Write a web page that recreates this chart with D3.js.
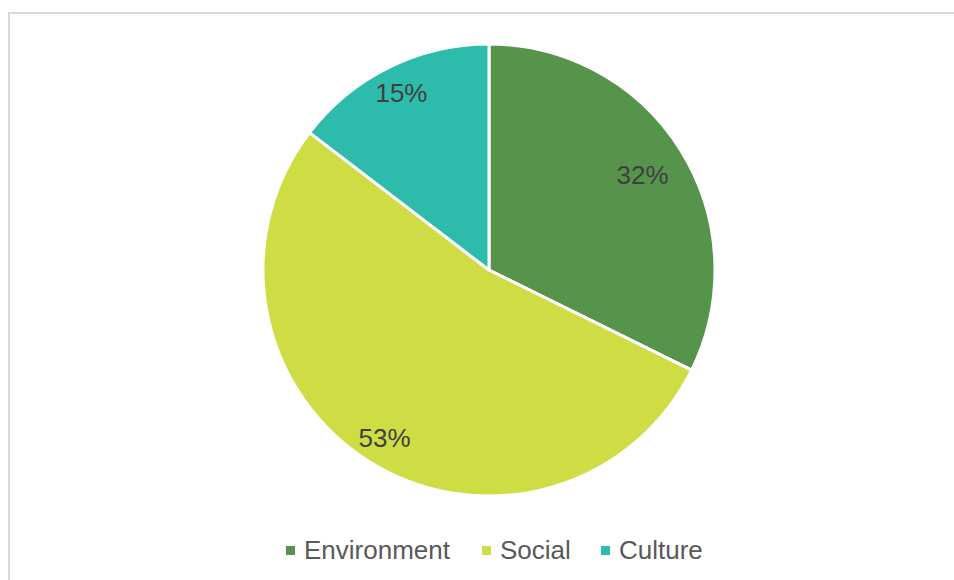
<!DOCTYPE html>
<html>
<head>
<meta charset="utf-8">
<script src="https://cdn.jsdelivr.net/npm/d3@7"></script>
<style>
  html, body { margin: 0; padding: 0; background: #fff; overflow: hidden; }
  svg { display: block; }
</style>
</head>
<body>
<svg id="chart" width="954" height="580"></svg>
<script>
// Data
const categories = ["Environment", "Social", "Culture"];
const values = [32.3, 53.1, 14.6];
const colors = ["#56944b", "#cfdd45", "#2dbbab"];

const W = 954, H = 580;
const svg = d3.select("#chart");

// chart area border (open on right/bottom as it runs off-canvas)
svg.append("rect")
  .attr("x", 9).attr("y", 13)
  .attr("width", 960).attr("height", 600)
  .attr("fill", "#fff")
  .attr("stroke", "#d9d9d9")
  .attr("stroke-width", 2);

const cx = 489, cy = 270, R = 226;
const data = categories.map((c, i) => ({ cat: c, value: values[i], color: colors[i] }));

const pie = d3.pie().value(d => d.value).sort(null);
const arcs = pie(data);
const arc = d3.arc().innerRadius(0).outerRadius(R);

const g = svg.append("g").attr("transform", `translate(${cx},${cy})`);
g.selectAll("path.slice")
  .data(arcs)
  .enter().append("path")
  .attr("class", "slice")
  .attr("d", arc)
  .attr("fill", d => d.data.color)
  .attr("stroke", "#fff")
  .attr("stroke-width", 3)
  .attr("stroke-linejoin", "round");

const labelRatio = [0.80, 0.875, 0.875];
g.selectAll("text.lbl")
  .data(arcs)
  .enter().append("text")
  .attr("class", "lbl")
  .each(function(d, i) {
    const la = d3.arc().innerRadius(R * labelRatio[i]).outerRadius(R * labelRatio[i]);
    const [x, y] = la.centroid(d);
    d3.select(this).attr("x", x).attr("y", y);
  })
  .attr("text-anchor", "middle")
  .attr("dominant-baseline", "central")
  .attr("font-family", "Liberation Sans, Arial, sans-serif")
  .attr("font-size", 26)
  .attr("fill", "#404040")
  .text(d => Math.round(d.data.value) + "%");

// Legend
const legendX = [286, 482, 601];
const legend = svg.append("g");
data.forEach((d, i) => {
  legend.append("rect")
    .attr("x", legendX[i]).attr("y", 546)
    .attr("width", 9).attr("height", 9)
    .attr("fill", d.color);
  legend.append("text")
    .attr("x", legendX[i] + 18).attr("y", 550)
    .attr("dominant-baseline", "central")
    .attr("font-family", "Liberation Sans, Arial, sans-serif")
    .attr("font-size", 26)
    .attr("fill", "#595959")
    .text(d.cat);
});
</script>
</body>
</html>
